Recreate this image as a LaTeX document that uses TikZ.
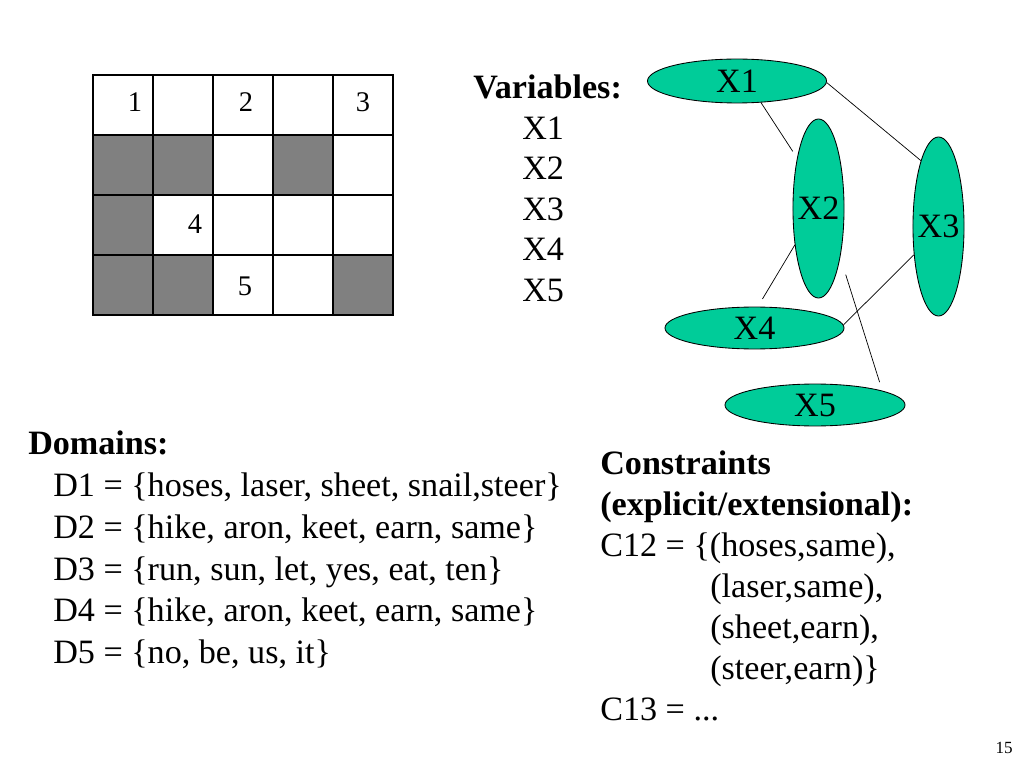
\documentclass[tikz,border=0pt]{standalone}
\usepackage{fontspec}
\setmainfont{Liberation Serif}
\usepackage{tikz}
\usetikzlibrary{shapes.geometric}

\definecolor{csp}{RGB}{0,204,153}
\definecolor{cellgray}{RGB}{128,128,128}

\begin{document}
\begin{tikzpicture}[x=0.703125pt, y=-0.703125pt,
	txt/.style={anchor=base west, inner sep=0pt, font=\fontsize{24}{28.8}\selectfont},
	num/.style={inner sep=0pt, font=\fontsize{20}{24}\selectfont},
	var/.style={draw, ellipse, fill=csp, inner sep=0pt, line width=0.6pt, font=\fontsize{24}{28.8}\selectfont},
	gridline/.style={line width=2.1pt, line cap=rect},
	link/.style={line width=0.5pt}]

		\useasboundingbox (0,0) rectangle (1024,768);

		\foreach \c/\r in {1/2,2/2,4/2,1/3,1/4,2/4,5/4}
			\fill[cellgray] ({33+60*\c},{15+60*\r}) rectangle ++(60,60);
		\foreach \c in {0,...,5}
			\draw[gridline] ({93+60*\c},75) -- ({93+60*\c},315);
		\foreach \r in {0,...,4}
			\draw[gridline] (93,{75+60*\r}) -- (393,{75+60*\r});

		\node[num] (n1) at (135,102) {1};
		\node[num] (n2) at (246,102) {2};
		\node[num] (n3) at (363,102) {3};
		\node[num] (n4) at (195,224) {4};
		\node[num] (n5) at (245,286) {5};

		\node[txt] (vars) at (473,99) {\textbf{Variables:}};
		\foreach \i in {1,...,5}
			\node[txt] (var\i) at (522,{99+40.5*\i}) {X\i};

		\node[var, minimum width=125.9pt, minimum height=30.9pt] (X1) at (737,81) {\makebox[0pt]{X1}};
		\node[var, minimum width=35.9pt, minimum height=125.9pt] (X2) at (818.5,208.5) {\makebox[0pt]{X2}};
		\node[var, minimum width=35.9pt, minimum height=125.9pt] (X3) at (938.5,226.5) {\makebox[0pt]{X3}};
		\node[var, minimum width=125.9pt, minimum height=29.5pt] (X4) at (754.5,328) {\makebox[0pt]{X4}};
		\node[var, minimum width=126.6pt, minimum height=29.5pt] (X5) at (815,405) {\makebox[0pt]{X5}};

		\draw[link, shorten >=5.5pt] (X1.-42) -- (X2.113.5);
		\draw[link] (X1.-1) -- (X3.105);
		\draw[link, shorten >=6.3pt] (X2.-123) -- (X4.81);
		\draw[link] (X3.229) -- (X4.2);
		\draw[link, shorten <=12.7pt, shorten >=6.3pt] (X2.-66) -- (X5.12);

		\node[txt] (dom) at (28,454) {\textbf{Domains:}};
		\node[txt] (d1) at (53,496) {D1 = \{hoses, laser, sheet, snail,steer\}};
		\node[txt] (d2) at (53,538) {D2 = \{hike, aron, keet, earn, same\}};
		\node[txt] (d3) at (53,580) {D3 = \{run, sun, let, yes, eat, ten\}};
		\node[txt] (d4) at (53,621) {D4 = \{hike, aron, keet, earn, same\}};
		\node[txt] (d5) at (53,663) {D5 = \{no, be, us, it\}};

		\node[txt] (cons) at (600,474) {\textbf{Constraints}};
		\node[txt] (expl) at (600,515) {\textbf{(explicit/extensional):}};
		\node[txt] (c12) at (600,556) {C12 = \{(hoses,same),};
		\node[txt] (c12b) at (710,597) {(laser,same),};
		\node[txt] (c12c) at (710,638) {(sheet,earn),};
		\node[txt] (c12d) at (710,679) {(steer,earn)\}};
		\node[txt] (c13) at (600,720) {C13 = ...};

		\node[anchor=base east, inner sep=0pt, font=\fontsize{12}{14}\selectfont] (page) at (1013,753) {15};
	\end{tikzpicture}
\end{document}
